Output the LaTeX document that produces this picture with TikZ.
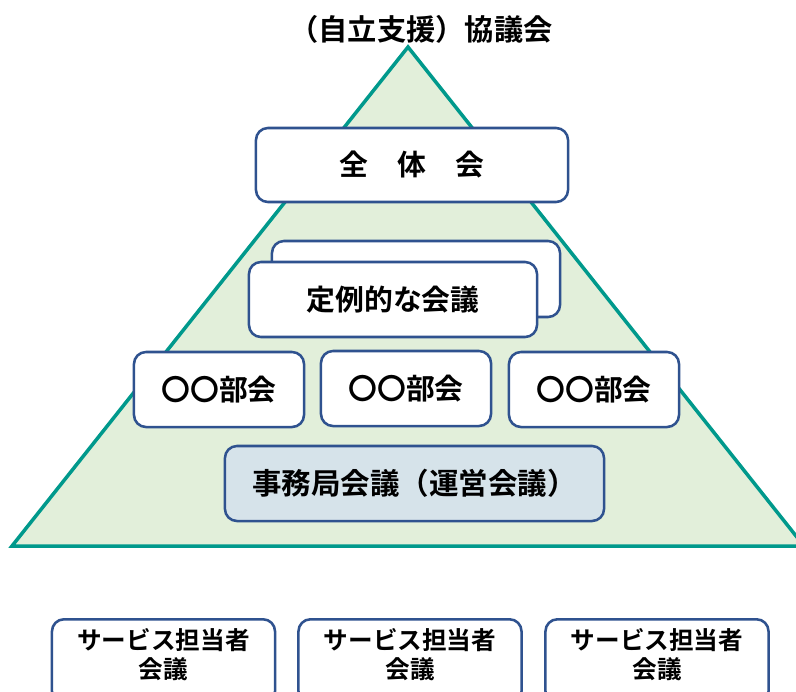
\documentclass[tikz,border=0pt]{standalone}
\usepackage{fontspec}
\setmainfont{Noto Sans CJK JP}[BoldFont={Noto Sans CJK JP Bold}]
\definecolor{trifill}{RGB}{226,239,218}
\definecolor{triline}{RGB}{0,153,140}
\definecolor{boxline}{RGB}{47,82,143}
\definecolor{jimufill}{RGB}{214,227,234}

\begin{document}
\begin{tikzpicture}[x=0.025cm,y=-0.025cm,
  meetbox/.style={draw=boxline,line width=1.8pt,rounded corners=0.3cm,
    fill=white,inner sep=0pt,minimum height=1.875cm,
    font=\bfseries\fontsize{20.5}{24}\selectfont},
  svcbox/.style={meetbox,minimum width=5.575cm,minimum height=2.1cm,anchor=north},
  svctext/.style={align=center,inner sep=0pt,
    font=\bfseries\fontsize{17.5}{20.5}\selectfont}]
  \useasboundingbox (0,0) rectangle (796,691);
  \clip (0,0) rectangle (796,691);

  \node[font=\bfseries\fontsize{20.8}{24}\selectfont] (title) at (421,29.5) {（自立支援）協議会};

  \filldraw[fill=trifill,draw=triline,line width=2.5pt,line join=miter]
  (408,47) coordinate (apex) -- (12,546) -- (804,546) -- cycle;

  \node[meetbox,minimum width=7.8cm,minimum height=1.85cm] (zentai) at (412,165) {全　体　会};

  \node[meetbox,minimum width=7.2cm,minimum height=1.9cm] (teireiback) at (416,279) {};
  \node[meetbox,minimum width=7.2cm] (teirei) at (393,299.5) {定例的な会議};

  \node[meetbox,minimum width=4.25cm] (bukai1) at (219,389.5) {〇〇部会};
  \node[meetbox,minimum width=4.25cm] (bukai2) at (406,388.5) {〇〇部会};
  \node[meetbox,minimum width=4.25cm] (bukai3) at (594,389.5) {〇〇部会};

  \node[meetbox,fill=jimufill,minimum width=9.475cm] (jimu) at (414.5,483.5)
  {\fontsize{21}{24}\selectfont 事務局会議（運営会議）};

  \node[svcbox] (svc1) at (163.5,618) {};
  \node[svcbox] (svc2) at (410,618) {};
  \node[svcbox] (svc3) at (657,618) {};
  \node[svctext] (svc1text) at (163.5,655) {サービス担当者\\会議};
  \node[svctext] (svc2text) at (410,655) {サービス担当者\\会議};
  \node[svctext] (svc3text) at (657,655) {サービス担当者\\会議};
\end{tikzpicture}
\end{document}
